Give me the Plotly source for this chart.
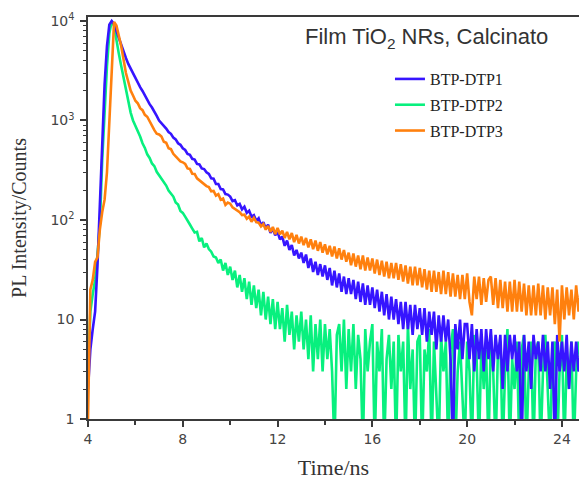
import numpy as np
import plotly.graph_objects as go

# time channels (ns), 0.1 ns bins from 4.0 to 24.8
time_ns = np.round(np.arange(4.0, 24.85, 0.1), 2)

series_names = ["BTP-DTP1", "BTP-DTP2", "BTP-DTP3"]
series_colors = ["#3615FF", "#08F07E", "#FF800E"]

counts_dtp1 = [
    2, 5, 8, 12, 35, 160, 750, 2300, 5600, 9200,
    10000, 9300, 7900, 6700, 5600, 4900, 4250, 3700, 3300, 2950,
    2630, 2400, 2160, 1980, 1780, 1640, 1460, 1350, 1200, 1110,
    1000, 945, 872, 830, 765, 735, 672, 645, 590, 570,
    525, 505, 462, 452, 412, 405, 366, 362, 330, 325,
    302, 290, 262, 260, 230, 230, 205, 203, 182, 180,
    172, 155, 158, 140, 145, 128, 136, 118, 124, 108,
    112, 98, 104, 88, 95, 82, 90, 74, 82, 70,
    76, 64, 68, 55, 62, 50, 56, 44, 50, 41,
    47, 37, 45, 33, 41, 30, 38, 28, 36, 27,
    35, 25, 33, 22, 31, 21, 29, 19, 27, 18,
    26, 18, 25, 16, 24, 15, 23, 14, 22, 14,
    21, 13, 20, 12, 19, 11, 18, 10, 17, 10,
    16, 9, 15, 8, 15, 8, 14, 7, 14, 8,
    13, 7, 13, 6, 12, 7, 12, 5, 11, 6,
    11, 6, 10, 4, 0, 9, 5, 10, 4, 9,
    9, 4, 9, 3, 8, 4, 8, 3, 8, 4,
    8, 3, 7, 4, 7, 2, 7, 3, 7, 4,
    7, 3, 6, 0, 7, 3, 6, 2, 7, 4,
    6, 3, 7, 3, 6, 2, 6, 0, 7, 3,
    6, 3, 7, 2, 6, 3, 6, 3, 5,
]

counts_dtp2 = [
    3, 12, 18, 25, 45, 90, 400, 1300, 3500, 7500,
    10000, 8900, 6300, 4700, 3550, 2650, 2000, 1550, 1200, 1000,
    890, 770, 690, 590, 530, 457, 420, 370, 348, 305,
    282, 262, 236, 222, 198, 186, 172, 150, 143, 123,
    118, 108, 97, 90, 82, 75, 76, 61, 66, 53,
    58, 51, 48, 43, 42, 37, 40, 31, 37, 28,
    34, 25, 31, 21, 28, 19, 26, 16, 24, 14,
    22, 13, 20, 11, 19, 10, 17, 9, 16, 8,
    15, 8, 13, 6, 14, 7, 12, 5, 11, 6,
    12, 5, 10, 4, 11, 3, 9, 4, 10, 3,
    9, 4, 8, 3, 0, 7, 9, 3, 10, 2,
    8, 3, 9, 2, 7, 4, 0, 8, 3, 6,
    9, 0, 6, 3, 8, 0, 4, 7, 2, 6,
    0, 7, 3, 6, 0, 9, 2, 5, 0, 6,
    7, 0, 5, 3, 8, 0, 6, 2, 0, 7,
    3, 6, 0, 5, 8, 0, 3, 6, 2, 0,
    6, 3, 0, 7, 4, 0, 6, 2, 5, 0,
    7, 3, 0, 5, 6, 0, 3, 8, 0, 4,
    2, 6, 0, 5, 7, 0, 3, 6, 0, 5,
    6, 0, 3, 7, 2, 0, 5, 6, 0, 3,
    7, 0, 4, 2, 6, 0, 3, 6, 4,
]

counts_dtp3 = [
    1, 20, 25, 38, 42, 80, 120, 160, 300, 900,
    3800, 9800, 9000, 7300, 5600, 4100, 3000, 2450, 2000, 1780,
    1580, 1490, 1330, 1270, 1140, 1090, 975, 860, 800, 738,
    724, 690, 612, 598, 525, 515, 462, 436, 413, 388,
    380, 366, 330, 326, 292, 290, 262, 250, 236, 226,
    219, 214, 194, 196, 176, 182, 160, 164, 142, 150,
    146, 134, 130, 124, 120, 112, 113, 103, 108, 96,
    105, 95, 94, 86, 91, 80, 87, 76, 85, 72,
    83, 72, 78, 66, 76, 64, 74, 60, 71, 58,
    68, 56, 66, 53, 64, 51, 62, 49, 60, 47,
    57, 45, 55, 43, 54, 41, 52, 40, 50, 38,
    47, 35, 46, 34, 44, 32, 44, 31, 42, 31,
    41, 29, 40, 28, 39, 27, 38, 26, 37, 26,
    37, 25, 36, 24, 35, 23, 34, 22, 34, 22,
    33, 21, 32, 20, 31, 19, 31, 19, 30, 18,
    31, 18, 30, 17, 29, 17, 28, 16, 28, 16,
    29, 15, 11, 27, 16, 27, 14, 26, 15, 25,
    27, 14, 26, 13, 25, 13, 24, 12, 24, 12,
    25, 12, 24, 12, 23, 11, 22, 11, 22, 11,
    23, 11, 22, 10, 21, 11, 21, 9, 20, 6,
    22, 10, 21, 11, 20, 10, 22, 12, 21,
]

y_tick_vals = [1, 10, 100, 1000, 10000]
y_tick_text = ["1", "10", "10<sup>2</sup>", "10<sup>3</sup>", "10<sup>4</sup>"]
y_minor_vals = [m * d for d in (1, 10, 100, 1000) for m in range(2, 10)]
x_tick_vals = [4, 8, 12, 16, 20, 24]
x_minor_vals = [6, 10, 14, 18, 22]

all_counts = [counts_dtp1, counts_dtp2, counts_dtp3]
draw_order = [1, 0, 2]  # green at back, orange in front

fig = go.Figure()
for i in draw_order:
    c = np.asarray(all_counts[i], dtype=float)
    # zero counts cannot sit on a log axis: show them at the floor (below the axis)
    c_plot = np.where(c > 0, c, 0.5)
    fig.add_trace(go.Scatter(
        x=time_ns, y=c_plot, mode="lines", name=series_names[i],
        line=dict(color=series_colors[i], width=2.6),
        legendrank=i + 1, legendgroup=series_names[i],
    ))

axis_col = "#3a3a3a"
fig.update_layout(
    width=579, height=480,
    margin=dict(l=88, r=0, t=17, b=61),
    paper_bgcolor="white", plot_bgcolor="white",
    showlegend=True,
    legend=dict(
        x=0.615, y=0.888, xanchor="left", yanchor="top",
        bgcolor="rgba(0,0,0,0)", borderwidth=0,
        font=dict(family="Liberation Serif, DejaVu Serif, serif", size=16, color="#222"),
        traceorder="grouped", tracegroupgap=2,
        itemwidth=30,
    ),
    annotations=[dict(
        x=0.69, y=0.948, xref="paper", yref="paper",
        text="Film TiO<sub>2</sub> NRs, Calcinato", showarrow=False,
        xanchor="center", yanchor="middle",
        font=dict(family="Liberation Sans, Arial, sans-serif", size=22, color="#333"),
    )],
)

fig.update_xaxes(
    range=[4, 24.72], showgrid=False, zeroline=False,
    showline=True, linecolor=axis_col, linewidth=1.5, mirror=True,
    tickmode="array", tickvals=x_tick_vals,
    ticks="outside", ticklen=6, tickwidth=1.5, tickcolor=axis_col,
    minor=dict(tickvals=x_minor_vals, ticks="outside", ticklen=4, tickwidth=1.5, tickcolor=axis_col, showgrid=False),
    tickfont=dict(family="DejaVu Sans, Verdana, sans-serif", size=14, color="#444"),
    title=dict(text="Time/ns", standoff=14,
               font=dict(family="Liberation Serif, DejaVu Serif, serif", size=22, color="#333")),
)
fig.update_yaxes(
    type="log", range=[0, 4.04], showgrid=False, zeroline=False,
    showline=True, linecolor=axis_col, linewidth=1.5, mirror=False,
    tickmode="array", tickvals=y_tick_vals, ticktext=y_tick_text,
    ticks="outside", ticklen=6, tickwidth=1.5, tickcolor=axis_col,
    minor=dict(tickvals=y_minor_vals, ticks="outside", ticklen=3, tickwidth=1, tickcolor=axis_col, showgrid=False),
    tickfont=dict(family="DejaVu Sans, Verdana, sans-serif", size=14, color="#444"),
    ticklabelstandoff=3,
    title=dict(text="PL Intensity/Counts", standoff=18,
               font=dict(family="Liberation Serif, DejaVu Serif, serif", size=20, color="#333")),
)

fig.write_html("out.html")
